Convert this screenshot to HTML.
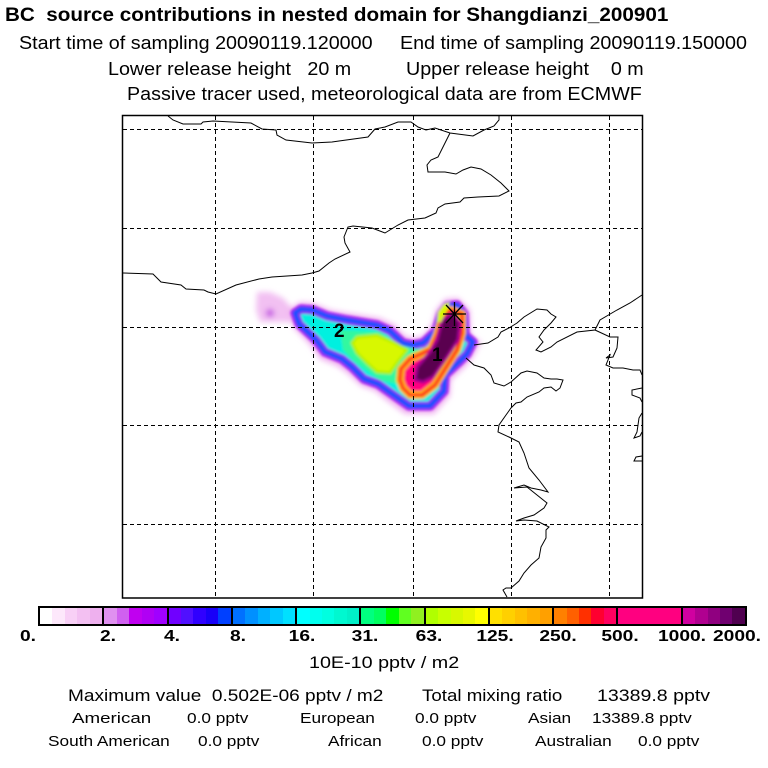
<!DOCTYPE html>
<html><head><meta charset="utf-8"><style>
body{margin:0;width:768px;height:768px;background:#fff;position:relative;overflow:hidden;font-family:"Liberation Sans",sans-serif;color:#000}
.t{position:absolute;white-space:nowrap;font-size:18px;transform-origin:0 0;transform:scaleX(1.095)}
.s{position:absolute;white-space:nowrap;font-size:15px;transform-origin:0 0;transform:scaleX(1.15)}
.cb{position:absolute;top:606px;left:38px;width:709px;height:20px;border:2px solid #000;display:flex;box-sizing:border-box}
.seg{flex:1;display:flex;border-right:2px solid #000}
.seg:last-child{border-right:none}
.seg i{flex:1}
.lb{position:absolute;top:628px;font-size:16px;font-weight:bold;transform:translateX(-50%) scaleX(1.2)}
</style></head><body>
<div class="t" style="left:5px;top:5px;font-weight:bold;font-size:19px;transform:scaleX(1.087)">BC&nbsp; source contributions in nested domain for Shangdianzi_200901</div>
<div class="t" style="left:19px;top:33px">Start time of sampling 20090119.120000&nbsp;&nbsp;&nbsp;&nbsp; End time of sampling 20090119.150000</div>
<div class="t" style="left:108px;top:59px">Lower release height&nbsp;&nbsp; 20 m&nbsp;&nbsp;&nbsp;&nbsp;&nbsp;&nbsp;&nbsp;&nbsp;&nbsp; Upper release height&nbsp;&nbsp;&nbsp; 0 m</div>
<div class="t" style="left:127px;top:84px">Passive tracer used, meteorological data are from ECMWF</div>

<svg style="position:absolute;left:0;top:0" width="768" height="768" viewBox="0 0 768 768">
<defs><filter id="b" x="-10%" y="-10%" width="120%" height="120%"><feGaussianBlur stdDeviation="1.3"/></filter>
<filter id="b2" x="-20%" y="-20%" width="140%" height="140%"><feGaussianBlur stdDeviation="3"/></filter></defs>
<g filter="url(#b2)">
<polygon fill="#f2c0f2" points="257,292 270,292 283,298 292,308 292,322 280,322 260,322 256,310"/>
<circle cx="270" cy="313" r="4" fill="#c040e0"/>
<polygon fill="#f0b0f0" points="288,310 300,302 313,303 330,310 347,313 380,318 395,325 405,336 413,338 423,336 432,324 436,310 445,299 458,298 470,310 471,335 481,342 473,357 466,366 451,380 450,396 434,414 405,414 386,400 375,391 361,386 347,373 337,366 320,359 310,345 294,328"/>
</g>
<g filter="url(#b)" stroke-linejoin="round">
<polygon fill="#00f0e0" stroke="#a000f0" stroke-width="9" points="295,313 301,309 313,310 327,316 347,320 377,325 390,331 403,343 413,345 423,343 436,331 441,314 447,306 457,305 464,314 465,335 473,342 467,354 460,361 445,375 444,391 430,406 409,406 392,394 378,384 364,379 352,367 342,359 325,352 316,340 299,324"/>
<polygon fill="none" stroke="#1e50ff" stroke-width="5" points="295,313 301,309 313,310 327,316 347,320 377,325 390,331 403,343 413,345 423,343 436,331 441,314 447,306 457,305 464,314 465,335 473,342 467,354 460,361 445,375 444,391 430,406 409,406 392,394 378,384 364,379 352,367 342,359 325,352 316,340 299,324"/>
<polygon fill="#30f8a0" points="340,330 380,332 400,345 420,350 410,370 400,385 380,380 355,362 343,350"/>
<polygon fill="#d8f800" stroke="#b0f000" stroke-width="3" points="357,337 377,335 393,342 407,350 397,363 390,373 377,372 367,363 357,353 352,343"/>
<polygon fill="#ff0080" stroke="#ffb000" stroke-width="8" points="401,369 410,359 421,354 431,349 437,335 442,318 451,310 462,314 462,333 457,350 445,369 435,385 422,395 410,395 403,388 400,380"/>
<polygon fill="none" stroke="#ff2020" stroke-width="3" points="401,369 410,359 421,354 431,349 437,335 442,318 451,310 462,314 462,333 457,350 445,369 435,385 422,395 410,395 403,388 400,380"/>
<polygon fill="#5a0050" stroke="#a00090" stroke-width="3" points="417,367 430,352 437,340 442,320 453,313 460,323 458,340 447,357 433,377 423,382 415,380"/>
<polygon fill="#d8f800" points="438,312 444,304 450,302 446,312 441,322 437,322"/>
</g>
<g fill="none" stroke="#000" stroke-width="1">
<g stroke-dasharray="4,3">
<line x1="215.5" y1="116" x2="215.5" y2="598"/>
<line x1="313.5" y1="116" x2="313.5" y2="598"/>
<line x1="413.5" y1="116" x2="413.5" y2="598"/>
<line x1="511.5" y1="116" x2="511.5" y2="598"/>
<line x1="609.5" y1="116" x2="609.5" y2="598"/>
<line x1="123" y1="129.5" x2="642" y2="129.5"/>
<line x1="123" y1="228.5" x2="642" y2="228.5"/>
<line x1="123" y1="327.5" x2="642" y2="327.5"/>
<line x1="123" y1="425.5" x2="642" y2="425.5"/>
<line x1="123" y1="524.5" x2="642" y2="524.5"/>
</g>
<polyline points="168,116 173,120 183,124 201,124 203,122 213,121 251,123 262,129 276,130 277,135 286,140 312,143 332,142 339,141 368,137 375,129 385,127 398,122 411,122 418,127 426,130 435,128 450,133 473,136 484,130 494,126 499,120 499,116"/>
<polyline points="450,133 445,143 438,157 431,160 427,165 428,172 445,172 456,174 463,170 471,167 481,169 491,175 501,183 509,191 499,196 478,197 464,198 460,202 445,204 438,208 436,213 425,218 408,220 398,225 385,233 372,228 353,226 348,227 344,237 345,243 350,252 335,259 329,263 319,271 312,273 302,275 272,277 259,279 236,285 216,294 208,292 204,290 186,289 181,285 161,282 153,274 123,273"/>
<polyline points="474,345 488,343 498,337 501,332 509,328 517,323 524,317 537,309 547,310 551,314 556,317 551,323 544,330 539,337 543,342 536,350 541,352 551,347 557,342 577,332 595,330 600,320 617,310 630,303 642,295"/>
<polyline points="595,330 610,337 618,337 617,348 613,357 606,358 610,355 606,365 613,368 623,368 633,370 640,370 642,375"/>
<polyline points="642,388 632,390 632,395 640,398 642,402"/>
<polyline points="642,413 639,418 637,432 634,438 640,436 642,432"/>
<polyline points="642,456 636,457 634,461 642,461"/>
<polyline points="466,358 474,365 484,368 491,375 494,383 504,386 511,382 521,373 527,371 537,373 544,378 551,379 557,379 563,380 560,388 556,391 551,387 544,388 539,392 527,397 521,402 516,403 511,408 506,415 499,425 498,432 509,437 519,442 524,453 529,468 539,480 548,492 541,490 531,488 524,485 514,488 527,487 537,495 547,503 544,508 534,515 524,518 516,521 524,520 537,521 549,527 546,530 546,538 541,547 539,558 531,565 524,573 519,581 511,588 506,588 503,590 507,597"/>
<g stroke-width="1.3">
<line x1="443" y1="314" x2="466" y2="314"/>
<line x1="454.5" y1="302" x2="454.5" y2="326"/>
<line x1="446" y1="305" x2="463" y2="323"/>
<line x1="463" y1="305" x2="446" y2="323"/>
</g>
<rect x="122.5" y="115.5" width="520" height="482.5" stroke-width="1.5"/>
</g>
</svg>
<div style="position:absolute;left:334px;top:321px;font-weight:bold;font-size:19px">2</div>
<div style="position:absolute;left:432px;top:345px;font-weight:bold;font-size:19px">1</div>

<div class="cb">
<div class="seg"><i style="background:#fff"></i><i style="background:#fde8fb"></i><i style="background:#f8d0f6"></i><i style="background:#f3c0f2"></i><i style="background:#eeb0ee"></i></div>
<div class="seg"><i style="background:#e090f0"></i><i style="background:#d060f0"></i><i style="background:#c000f0"></i><i style="background:#b000f4"></i><i style="background:#a000ff"></i></div>
<div class="seg"><i style="background:#7000ff"></i><i style="background:#5010ff"></i><i style="background:#3000ff"></i><i style="background:#1800f8"></i><i style="background:#0040ff"></i></div>
<div class="seg"><i style="background:#0070ff"></i><i style="background:#0090ff"></i><i style="background:#00b0ff"></i><i style="background:#00c8ff"></i><i style="background:#00e0ff"></i></div>
<div class="seg"><i style="background:#00ffff"></i><i style="background:#00ffee"></i><i style="background:#00ffe0"></i><i style="background:#00f8d0"></i><i style="background:#00f0c8"></i></div>
<div class="seg"><i style="background:#00ff80"></i><i style="background:#00ff60"></i><i style="background:#00ff00"></i><i style="background:#60ff20"></i><i style="background:#90f020"></i></div>
<div class="seg"><i style="background:#b0ff00"></i><i style="background:#c8ff00"></i><i style="background:#d8f800"></i><i style="background:#e8f800"></i><i style="background:#ffff00"></i></div>
<div class="seg"><i style="background:#ffe000"></i><i style="background:#ffd000"></i><i style="background:#ffc000"></i><i style="background:#ffb000"></i><i style="background:#ffa000"></i></div>
<div class="seg"><i style="background:#ff8000"></i><i style="background:#ff6000"></i><i style="background:#ff3000"></i><i style="background:#ff0030"></i><i style="background:#ff0060"></i></div>
<div class="seg"><i style="background:#ff0080"></i></div>
<div class="seg"><i style="background:#d000a0"></i><i style="background:#b00090"></i><i style="background:#900080"></i><i style="background:#700070"></i><i style="background:#500050"></i></div>
</div>
<div class="lb" style="left:28px">0.</div>
<div class="lb" style="left:108px">2.</div>
<div class="lb" style="left:172px">4.</div>
<div class="lb" style="left:238px">8.</div>
<div class="lb" style="left:302px">16.</div>
<div class="lb" style="left:365px">31.</div>
<div class="lb" style="left:429px">63.</div>
<div class="lb" style="left:495px">125.</div>
<div class="lb" style="left:558px">250.</div>
<div class="lb" style="left:620px">500.</div>
<div class="lb" style="left:682px">1000.</div>
<div class="lb" style="left:737px">2000.</div>

<div class="t" style="left:309px;top:653px;font-size:17px;transform:scaleX(1.16)">10E-10 pptv / m2</div>
<div class="t" style="left:68px;top:686px;font-size:17px;transform:scaleX(1.12)">Maximum value&nbsp; 0.502E-06 pptv / m2</div>
<div class="t" style="left:422px;top:686px;font-size:17px;transform:scaleX(1.1)">Total mixing ratio</div>
<div class="t" style="left:597px;top:686px;font-size:17px;transform:scaleX(1.15)">13389.8 pptv</div>
<div class="s" style="left:72px;top:710px;transform:scaleX(1.25)">American</div>
<div class="s" style="left:187px;top:710px">0.0 pptv</div>
<div class="s" style="left:300px;top:710px">European</div>
<div class="s" style="left:415px;top:710px">0.0 pptv</div>
<div class="s" style="left:528px;top:710px">Asian</div>
<div class="s" style="left:592px;top:710px">13389.8 pptv</div>
<div class="s" style="left:48px;top:733px">South American</div>
<div class="s" style="left:198px;top:733px">0.0 pptv</div>
<div class="s" style="left:328px;top:733px">African</div>
<div class="s" style="left:422px;top:733px">0.0 pptv</div>
<div class="s" style="left:535px;top:733px">Australian</div>
<div class="s" style="left:638px;top:733px">0.0 pptv</div>
</body></html>
